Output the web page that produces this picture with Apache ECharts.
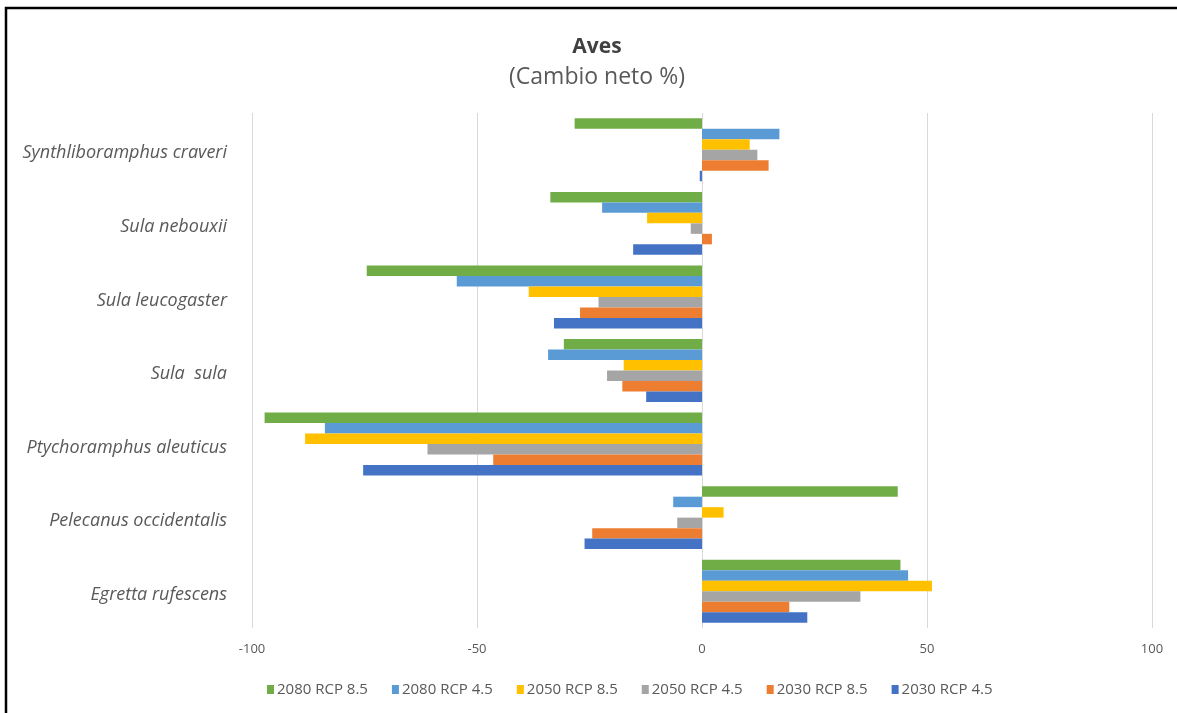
<!DOCTYPE html>
<html>
<head>
<meta charset="utf-8">
<style>
  html, body { margin: 0; padding: 0; background: #ffffff; }
  #chart { width: 1177px; height: 713px; }
</style>
<script src="https://cdn.jsdelivr.net/npm/echarts@6/dist/echarts.min.js"></script>
</head>
<body>
<div id="chart"></div>
<script>
// Species, listed bottom to top along the category axis
const species = [
  'Egretta rufescens',
  'Pelecanus occidentalis',
  'Ptychoramphus aleuticus',
  'Sula  sula',
  'Sula leucogaster',
  'Sula nebouxii',
  'Synthliboramphus craveri'
];

// Net change (%) per scenario, same order as species
const rcp85_2080 = [44.1, 43.5, -97.2, -30.7, -74.5, -33.7, -28.3];
const rcp45_2080 = [45.8, -6.4, -83.8, -34.2, -54.5, -22.2, 17.2];
const rcp85_2050 = [51.1, 4.8, -88.2, -17.4, -38.5, -12.2, 10.6];
const rcp45_2050 = [35.2, -5.5, -61.0, -21.1, -23.0, -2.5, 12.3];
const rcp85_2030 = [19.4, -24.4, -46.4, -17.7, -27.1, 2.2, 14.8];
const rcp45_2030 = [23.4, -26.1, -75.3, -12.4, -32.9, -15.3, -0.5];

const xTicks = { min: -100, max: 100, step: 50 };

const scenarios = [
  { name: '2080 RCP 8.5', data: rcp85_2080, color: '#70AD47' },
  { name: '2080 RCP 4.5', data: rcp45_2080, color: '#5B9BD5' },
  { name: '2050 RCP 8.5', data: rcp85_2050, color: '#FFC000' },
  { name: '2050 RCP 4.5', data: rcp45_2050, color: '#A5A5A5' },
  { name: '2030 RCP 8.5', data: rcp85_2030, color: '#ED7D31' },
  { name: '2030 RCP 4.5', data: rcp45_2030, color: '#4472C4' }
];

const FONT = '"Open Sans", Lato, sans-serif';

const chart = echarts.init(document.getElementById('chart'), null, { renderer: 'canvas' });

chart.setOption({
  animation: false,
  backgroundColor: '#ffffff',
  textStyle: { fontFamily: FONT },
  title: [
    {
      text: 'Aves',
      left: 592, top: 32, textAlign: 'center',
      textStyle: { fontFamily: FONT, fontSize: 21, fontWeight: 'bold', color: '#404040' }
    },
    {
      text: '(Cambio neto %)',
      left: 592, top: 61, textAlign: 'center',
      textStyle: { fontFamily: FONT, fontSize: 23, fontWeight: 'normal', color: '#595959' }
    }
  ],
  legend: {
    left: 262, top: 677,
    itemWidth: 7, itemHeight: 9, itemGap: 24,
    icon: 'rect',
    textStyle: { fontFamily: FONT, fontSize: 15, color: '#595959', padding: [0, 0, 0, -2] },
    data: scenarios.map(s => s.name)
  },
  grid: { left: 252, right: 25, top: 113, bottom: 85, containLabel: false },
  xAxis: {
    type: 'value',
    min: xTicks.min, max: xTicks.max, interval: xTicks.step,
    axisLine: { show: false },
    axisTick: { show: false },
    axisLabel: { fontFamily: FONT, fontSize: 13, color: '#595959', margin: 15 },
    splitLine: { lineStyle: { color: '#D9D9D9', width: 1 } }
  },
  yAxis: {
    type: 'category',
    data: species,
    axisLine: { show: false },
    axisTick: { show: false },
    axisLabel: {
      margin: 25,
      formatter: v => '{sp|' + v + '}',
      rich: {
        sp: {
          fontFamily: FONT, fontSize: 18, fontStyle: 'italic', color: '#595959',
          padding: [7, 0, 0, 0]
        }
      }
    }
  },
  series: scenarios.map(s => ({
    name: s.name,
    type: 'bar',
    data: s.data,
    itemStyle: { color: s.color },
    barGap: '0%',
    barCategoryGap: '14.5%'
  })),
  graphic: [
    {
      type: 'polyline',
      silent: true,
      shape: { points: [[6, 713], [6, 8], [1177, 8]] },
      style: { stroke: '#000000', lineWidth: 2.5, fill: null }
    }
  ]
});
</script>
</body>
</html>
